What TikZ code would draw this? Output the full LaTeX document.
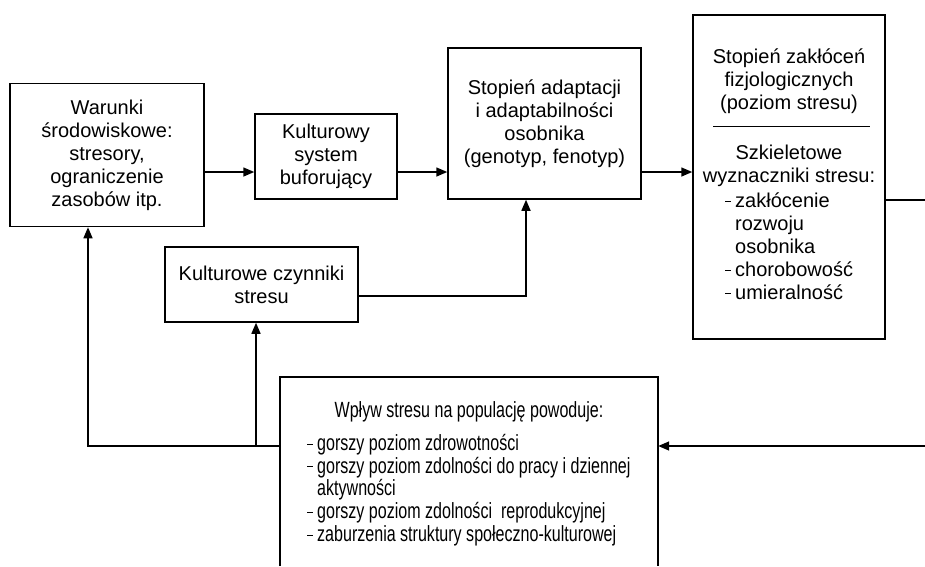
\documentclass[tikz,border=0pt]{standalone}
\usepackage{fontspec}
\setmainfont{Liberation Sans}
\newfontfamily\condfont[FakeStretch=0.73]{Liberation Sans}
\usetikzlibrary{arrows.meta,calc}
\newcommand\dsh{\makebox[10pt][l]{\rule[6pt]{6pt}{0.7pt}}}
\begin{document}
\begin{tikzpicture}[x=1pt,y=1pt,
  box/.style={draw, line width=1.5pt, align=center, inner sep=0pt, font=\fontsize{20}{23}\selectfont},
  txt/.style={inner sep=0pt, font=\fontsize{20}{23}\selectfont},
  ctxt/.style={inner sep=0pt, font=\condfont\fontsize{22}{22.8}\selectfont},
  ln/.style={line width=1.5pt},
  arr/.style={line width=1.5pt, -{Triangle[length=11pt,width=9pt]}}]
\useasboundingbox (0,0) rectangle (925,-566);
% boxes
\node[box, minimum width=194, minimum height=143] (A) at (107,-155) {Warunki\\środowiskowe:\\stresory,\\ograniczenie\\zasobów itp.};
\node[box, minimum width=142, minimum height=85] (B) at (326,-156.5) {Kulturowy\\system\\buforujący};
\node[box, minimum width=193, minimum height=151] (C) at (544.5,-123.5) {Stopień adaptacji\\i adaptabilności\\osobnika\\(genotyp, fenotyp)};
\node[box, minimum width=192, minimum height=324] (D) at (789,-177) {};
\node[box, minimum width=193, minimum height=75] (E) at (261.5,-284.5) {Kulturowe czynniki\\stresu};
\node[inner sep=0pt, minimum width=378, minimum height=189] (F) at (469,-471.5) {};
\draw[ln] (F.south west) -- (F.north west) -- (F.north east) -- (F.south east);
% D contents
\node[txt, align=center] (D1) at (789,-81) {Stopień zakłóceń\\fizjologicznych\\(poziom stresu)};
\coordinate (dv1) at (713,-126);
\coordinate (dv2) at (870,-126);
\draw[line width=0.8pt] (dv1) -- (dv2);
\node[txt, align=center] (D2) at (789,-166) {Szkieletowe\\wyznaczniki stresu:};
\node[txt, align=left, anchor=west] (D3) at (725,-246) {\dsh zakłócenie\\\hspace*{10pt}rozwoju\\\hspace*{10pt}osobnika\\\dsh chorobowość\\\dsh umieralność};
% F contents
\node[ctxt] (F1) at (469,-412) {Wpływ stresu na populację powoduje:};
\node[ctxt, align=left, anchor=west] (F2) at (307,-490) {\dsh gorszy poziom zdrowotności\\\dsh gorszy poziom zdolności do pracy i dziennej\\\hspace*{10pt}aktywności\\\dsh gorszy poziom zdolności~ reprodukcyjnej\\\dsh zaburzenia struktury społeczno-kulturowej};
% connectors
\coordinate (y1) at (0,-172);
\draw[arr] (A.east |- y1) -- (B.west |- y1);
\draw[arr] (B.east |- y1) -- (C.west |- y1);
\draw[arr] (C.east |- y1) -- (D.west |- y1);
\coordinate (R1) at (925,-200);
\draw[ln] (D.east |- R1) -- (R1);
\coordinate (R2) at (925,-446);
\draw[arr] (R2) -- (F.east |- R2);
\coordinate (L) at (88,-446);
\draw[arr] (F.west |- L) -- (L) -- (L |- A.south);
\coordinate (Lb) at (256,-446);
\draw[arr] (Lb) -- (Lb |- E.south);
\coordinate (Ec) at (526,-296);
\draw[arr] (E.east |- Ec) -- (Ec) -- (Ec |- C.south);
\end{tikzpicture}
\end{document}
